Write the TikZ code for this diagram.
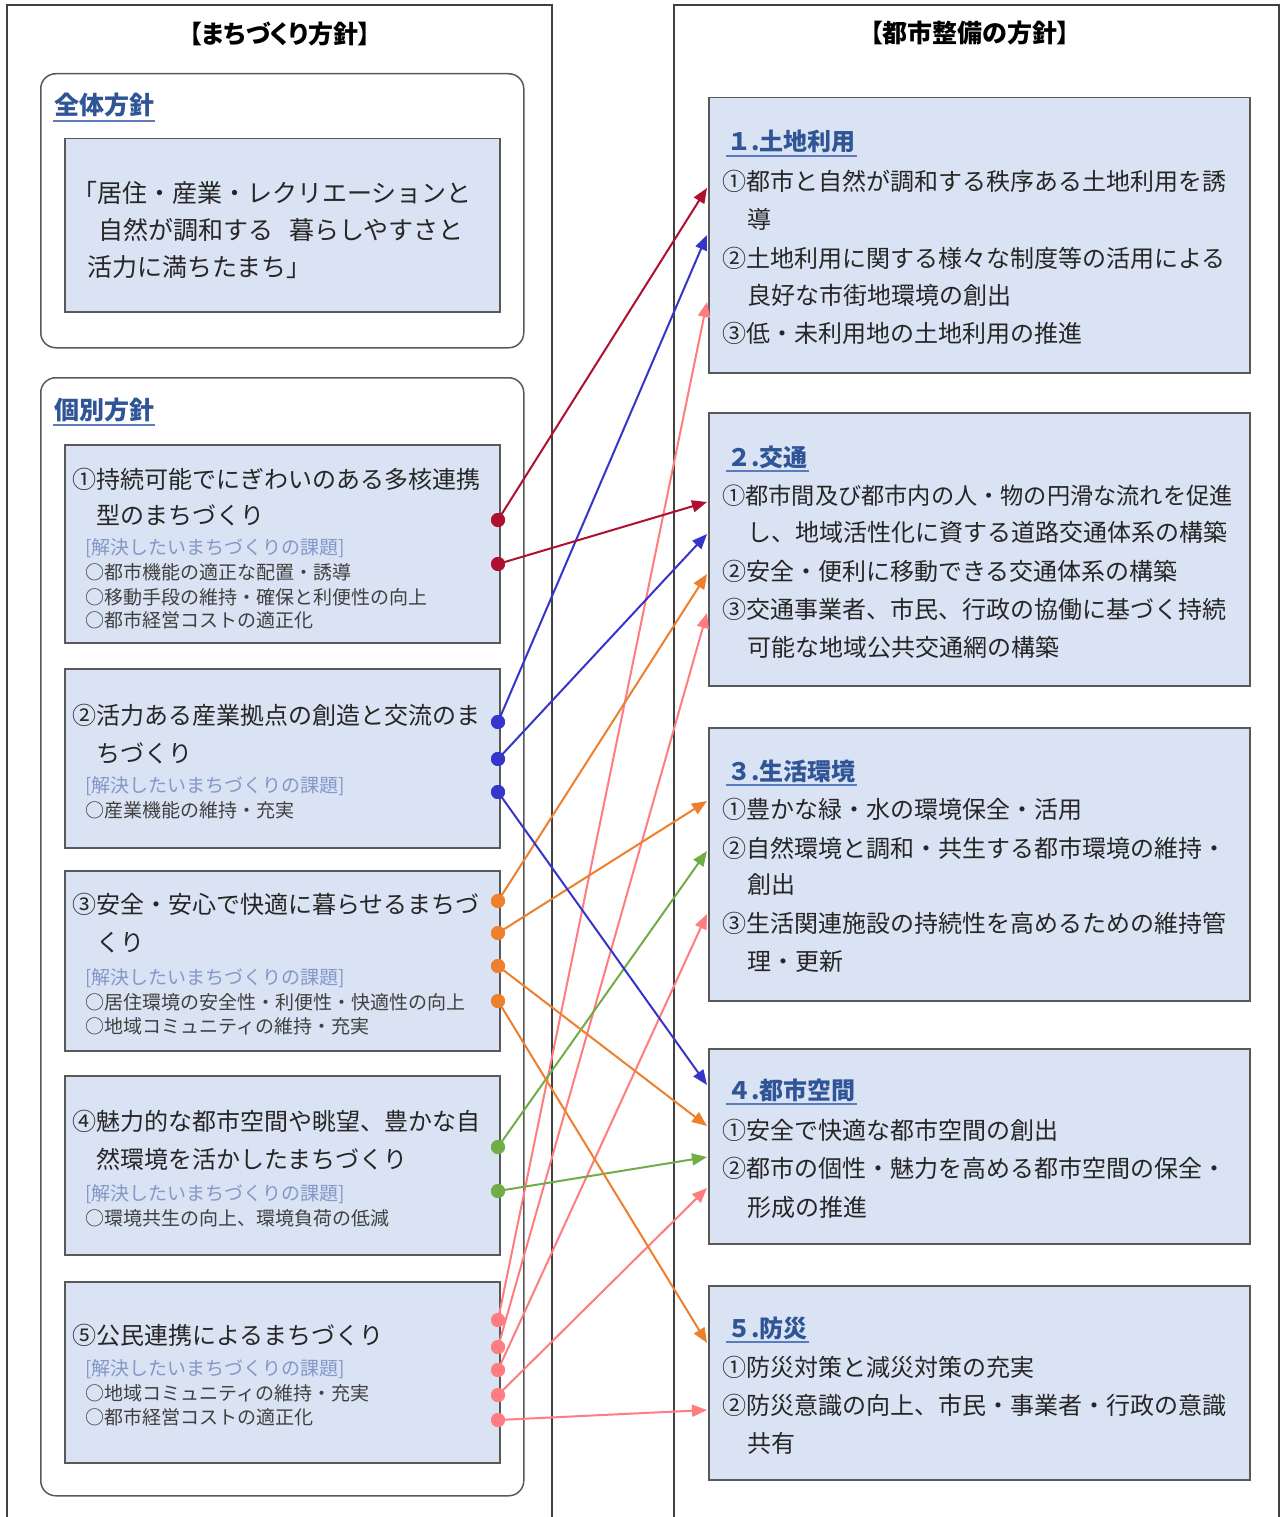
\documentclass[tikz,border=0pt]{standalone}
\usepackage{fontspec}
\setmainfont{Noto Sans CJK JP}
\newfontfamily\paltfont[RawFeature=+palt]{Noto Sans CJK JP}
\usetikzlibrary{arrows.meta}
\definecolor{boxF}{HTML}{DAE3F3}
\definecolor{boxC}{HTML}{595959}
\definecolor{frameC}{HTML}{404040}
\definecolor{headC}{HTML}{2F5597}
\definecolor{ulC}{HTML}{5B7BBF}
\definecolor{txtC}{HTML}{262626}
\definecolor{subC}{HTML}{8497C8}
\definecolor{bulC}{HTML}{404040}
\definecolor{cRed}{HTML}{B01030}
\definecolor{cBlue}{HTML}{3535CC}
\definecolor{cOrange}{HTML}{EE7F2D}
\definecolor{cGreen}{HTML}{70AD47}
\definecolor{cPink}{HTML}{FF7C80}
\tikzset{
  frameline/.style={draw=frameC, line width=1.3pt},
  roundbox/.style={draw=boxC, line width=1.5pt, rounded corners=15pt, fill=white, inner sep=0pt, anchor=north west},
  bluebox/.style={draw=boxC, line width=1.5pt, fill=boxF, inner sep=0pt, anchor=north west},
  titletxt/.style={font=\paltfont\bfseries\fontsize{25}{30}\selectfont, text=black, inner sep=0pt},
  lhead/.style={anchor=base west, font=\bfseries\fontsize{25}{30}\selectfont, text=headC, inner sep=1pt},
  rhead/.style={anchor=base west, font=\bfseries\fontsize{24}{28}\selectfont, text=headC, inner sep=1pt},
  uline/.style={draw=ulC, line width=1.5pt},
  ztxt/.style={anchor=base west, inner sep=0pt, font=\fontsize{25}{30}\selectfont, text=txtC},
  mtxt/.style={anchor=base west, inner sep=0pt, font=\fontsize{24}{28}\selectfont, text=txtC},
  stxt/.style={anchor=base west, inner sep=0pt, font=\fontsize{19}{22}\selectfont, text=subC},
  btxt/.style={anchor=base west, inner sep=0pt, font=\fontsize{19}{22}\selectfont, text=bulC},
  dot/.style={circle, fill=#1, inner sep=0pt, minimum size=14pt},
  conn/.style={draw=#1, line width=2pt, -{Triangle[length=15pt,width=12pt]}},
}
\begin{document}
\begin{tikzpicture}[x=1pt,y=-1pt]
\useasboundingbox (0,0) rectangle (1281,1517);
\fill[white] (0,0) rectangle (1281,1517);
% outer frames
\draw[frameline] (7,1517) -- (7,5) -- (552,5) -- (552,1517);
\draw[frameline] (674,1517) -- (674,5) -- (1279,5) -- (1279,1517);
\node[titletxt] (ttlL) at (280,34) {【まちづくり方針】};
\node[titletxt] (ttlR) at (970,33) {【都市整備の方針】};

% ---------- left side ----------
\node[roundbox, minimum width=483pt, minimum height=274pt] (zbox) at (40,73) {};
\node[lhead] (zhead) at (53,115) {全体方針};
\draw[uline] ([yshift=-6pt]zhead.base west) -- ([yshift=-6pt]zhead.base east);
\node[bluebox, minimum width=435pt, minimum height=173pt] (zin) at (64,138) {};
\node[ztxt] (z1) at (72,202) {「居住・産業・レクリエーションと};
\node[ztxt] (z2) at (98,239) {自然が調和する\hspace{16pt}暮らしやすさと};
\node[ztxt] (z3) at (87,276) {活力に満ちたまち」};

\node[roundbox, minimum width=483pt, minimum height=1118pt] (kbox) at (40,377) {};
\node[lhead] (khead) at (53,419) {個別方針};
\draw[uline] ([yshift=-6pt]khead.base west) -- ([yshift=-6pt]khead.base east);

\node[bluebox, minimum width=435pt, minimum height=198pt] (L1) at (64,444) {};
\node[mtxt] (l1a) at (72,488) {①持続可能でにぎわいのある多核連携};
\node[mtxt] (l1b) at (96,524) {型のまちづくり};
\node[stxt] (l1c) at (85,554) {[解決したいまちづくりの課題]};
\node[btxt] (l1d) at (85,579) {○都市機能の適正な配置・誘導};
\node[btxt] (l1e) at (85,604) {○移動手段の維持・確保と利便性の向上};
\node[btxt] (l1f) at (85,627) {○都市経営コストの適正化};

\node[bluebox, minimum width=435pt, minimum height=179pt] (L2) at (64,668) {};
\node[mtxt] (l2a) at (72,724) {②活力ある産業拠点の創造と交流のま};
\node[mtxt] (l2b) at (96,762) {ちづくり};
\node[stxt] (l2c) at (85,792) {[解決したいまちづくりの課題]};
\node[btxt] (l2d) at (85,817) {○産業機能の維持・充実};

\node[bluebox, minimum width=435pt, minimum height=180pt] (L3) at (64,870) {};
\node[mtxt] (l3a) at (72,913) {③安全・安心で快適に暮らせるまちづ};
\node[mtxt] (l3b) at (96,951) {くり};
\node[stxt] (l3c) at (85,984) {[解決したいまちづくりの課題]};
\node[btxt] (l3d) at (85,1009) {○居住環境の安全性・利便性・快適性の向上};
\node[btxt] (l3e) at (85,1033) {○地域コミュニティの維持・充実};

\node[bluebox, minimum width=435pt, minimum height=179pt] (L4) at (64,1075) {};
\node[mtxt] (l4a) at (72,1130) {④魅力的な都市空間や眺望、豊かな自};
\node[mtxt] (l4b) at (96,1168) {然環境を活かしたまちづくり};
\node[stxt] (l4c) at (85,1200) {[解決したいまちづくりの課題]};
\node[btxt] (l4d) at (85,1225) {○環境共生の向上、環境負荷の低減};

\node[bluebox, minimum width=435pt, minimum height=181pt] (L5) at (64,1281) {};
\node[mtxt] (l5a) at (72,1344) {⑤公民連携によるまちづくり};
\node[stxt] (l5c) at (85,1375) {[解決したいまちづくりの課題]};
\node[btxt] (l5d) at (85,1400) {○地域コミュニティの維持・充実};
\node[btxt] (l5e) at (85,1424) {○都市経営コストの適正化};

% ---------- right side ----------
\node[bluebox, minimum width=541pt, minimum height=275pt] (R1) at (708,97) {};
\node[rhead] (r1h) at (726,151) {１.土地利用};
\draw[uline] ([yshift=-5pt]r1h.base west) -- ([yshift=-5pt]r1h.base east);
\node[mtxt] (r1a) at (722,191) {①都市と自然が調和する秩序ある土地利用を誘};
\node[mtxt] (r1b) at (747,229) {導};
\node[mtxt] (r1c) at (722,267) {②土地利用に関する様々な制度等の活用による};
\node[mtxt] (r1d) at (747,304) {良好な市街地環境の創出};
\node[mtxt] (r1e) at (722,342) {③低・未利用地の土地利用の推進};

\node[bluebox, minimum width=541pt, minimum height=273pt] (R2) at (708,412) {};
\node[rhead] (r2h) at (726,466) {２.交通};
\draw[uline] ([yshift=-5pt]r2h.base west) -- ([yshift=-5pt]r2h.base east);
\node[mtxt, font=\fontsize{23.2}{28}\selectfont] (r2a) at (722,504) {①都市間及び都市内の人・物の円滑な流れを促進};
\node[mtxt] (r2b) at (747,541) {し、地域活性化に資する道路交通体系の構築};
\node[mtxt] (r2c) at (722,580) {②安全・便利に移動できる交通体系の構築};
\node[mtxt] (r2d) at (722,618) {③交通事業者、市民、行政の協働に基づく持続};
\node[mtxt] (r2e) at (747,656) {可能な地域公共交通網の構築};

\node[bluebox, minimum width=541pt, minimum height=273pt] (R3) at (708,727) {};
\node[rhead] (r3h) at (726,780) {３.生活環境};
\draw[uline] ([yshift=-5pt]r3h.base west) -- ([yshift=-5pt]r3h.base east);
\node[mtxt] (r3a) at (722,818) {①豊かな緑・水の環境保全・活用};
\node[mtxt] (r3b) at (722,857) {②自然環境と調和・共生する都市環境の維持・};
\node[mtxt] (r3c) at (747,893) {創出};
\node[mtxt] (r3d) at (722,932) {③生活関連施設の持続性を高めるための維持管};
\node[mtxt] (r3e) at (747,970) {理・更新};

\node[bluebox, minimum width=541pt, minimum height=195pt] (R4) at (708,1048) {};
\node[rhead] (r4h) at (726,1099) {４.都市空間};
\draw[uline] ([yshift=-5pt]r4h.base west) -- ([yshift=-5pt]r4h.base east);
\node[mtxt] (r4a) at (722,1139) {①安全で快適な都市空間の創出};
\node[mtxt] (r4b) at (722,1177) {②都市の個性・魅力を高める都市空間の保全・};
\node[mtxt] (r4c) at (747,1216) {形成の推進};

\node[bluebox, minimum width=541pt, minimum height=194pt] (R5) at (708,1285) {};
\node[rhead] (r5h) at (726,1337) {５.防災};
\draw[uline] ([yshift=-5pt]r5h.base west) -- ([yshift=-5pt]r5h.base east);
\node[mtxt] (r5a) at (722,1376) {①防災対策と減災対策の充実};
\node[mtxt] (r5b) at (722,1414) {②防災意識の向上、市民・事業者・行政の意識};
\node[mtxt] (r5c) at (747,1452) {共有};

% ---------- connector end points ----------
\coordinate (t1r) at (707,188);
\coordinate (t1b) at (707,235);
\coordinate (t1p) at (707,302);
\coordinate (t2r) at (707,502);
\coordinate (t2b) at (707,534);
\coordinate (t2o) at (707,574);
\coordinate (t2p) at (707,613);
\coordinate (t3o) at (707,801);
\coordinate (t3g) at (707,851);
\coordinate (t3p) at (707,914);
\coordinate (t4b) at (707,1085);
\coordinate (t4o) at (707,1126);
\coordinate (t4g) at (707,1157);
\coordinate (t4p) at (707,1188);
\coordinate (t5o) at (707,1343);
\coordinate (t5p) at (707,1410);

% dots (source points)
\node[dot=cRed] (dR1) at (498,520) {};
\node[dot=cRed] (dR2) at (498,564) {};
\node[dot=cBlue] (dB1) at (498,722) {};
\node[dot=cBlue] (dB2) at (498,759) {};
\node[dot=cBlue] (dB3) at (498,792) {};
\node[dot=cOrange] (dO1) at (498,901) {};
\node[dot=cOrange] (dO2) at (498,933) {};
\node[dot=cOrange] (dO3) at (498,966) {};
\node[dot=cOrange] (dO4) at (498,1001) {};
\node[dot=cGreen] (dG1) at (498,1147) {};
\node[dot=cGreen] (dG2) at (498,1191) {};
\node[dot=cPink] (dP1) at (498,1320) {};
\node[dot=cPink] (dP2) at (498,1347) {};
\node[dot=cPink] (dP3) at (498,1370) {};
\node[dot=cPink] (dP4) at (498,1395) {};
\node[dot=cPink] (dP5) at (498,1420) {};

% connectors
\draw[conn=cPink] (dP1.center) -- (t1p);
\draw[conn=cPink] (dP2.center) -- (t2p);
\draw[conn=cPink] (dP3.center) -- (t3p);
\draw[conn=cPink] (dP4.center) -- (t4p);
\draw[conn=cPink] (dP5.center) -- (t5p);
\draw[conn=cGreen] (dG1.center) -- (t3g);
\draw[conn=cGreen] (dG2.center) -- (t4g);
\draw[conn=cOrange] (dO1.center) -- (t2o);
\draw[conn=cOrange] (dO2.center) -- (t3o);
\draw[conn=cOrange] (dO3.center) -- (t4o);
\draw[conn=cOrange] (dO4.center) -- (t5o);
\draw[conn=cBlue] (dB1.center) -- (t1b);
\draw[conn=cBlue] (dB2.center) -- (t2b);
\draw[conn=cBlue] (dB3.center) -- (t4b);
\draw[conn=cRed] (dR1.center) -- (t1r);
\draw[conn=cRed] (dR2.center) -- (t2r);

% redraw dots on top
\foreach \n/\c in {dR1/cRed,dR2/cRed,dB1/cBlue,dB2/cBlue,dB3/cBlue,dO1/cOrange,dO2/cOrange,dO3/cOrange,dO4/cOrange,dG1/cGreen,dG2/cGreen,dP1/cPink,dP2/cPink,dP3/cPink,dP4/cPink,dP5/cPink}
  \fill[\c] (\n.center) circle (7pt);
\end{tikzpicture}
\end{document}
